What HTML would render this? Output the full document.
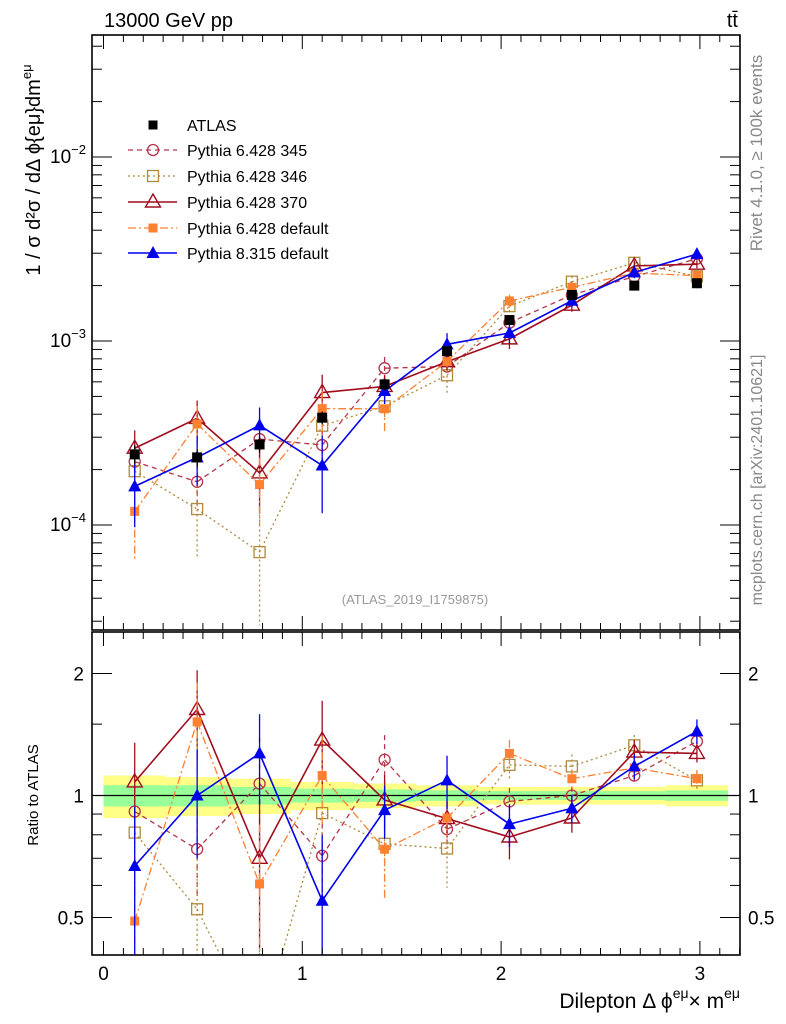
<!DOCTYPE html>
<html><head><meta charset="utf-8"><style>
html,body{margin:0;padding:0;background:#fff;overflow:hidden;width:786px;height:1024px;}
svg{display:block;}
svg text{font-family:"Liberation Sans",sans-serif;}
</style></head><body>
<svg id="chart" width="786" height="1024" viewBox="0 0 786 1024" xmlns="http://www.w3.org/2000/svg" overflow="hidden">
<rect width="786" height="1024" fill="#fff"/>
<g id="bands"></g>
<g id="series"></g>
<g id="axes"></g>
<text x="104" y="27" font-size="20">13000 GeV pp</text>
<text x="738" y="27" font-size="20" text-anchor="end">tt̄</text>
<text x="415" y="604" font-size="13" fill="#999" text-anchor="middle">(ATLAS_2019_I1759875)</text>
<text transform="translate(762,153) rotate(-90)" font-size="17" fill="#888" text-anchor="middle">Rivet 4.1.0, ≥ 100k events</text>
<text transform="translate(762,480) rotate(-90)" font-size="16" fill="#888" text-anchor="middle">mcplots.cern.ch [arXiv:2401.10621]</text>
<text transform="translate(40,170) rotate(-90)" font-size="20" text-anchor="middle">1 / σ  d²σ / dΔ ϕ{eμ}dm<tspan font-size="13" dy="-9">eμ</tspan></text>
<text transform="translate(38,795) rotate(-90)" font-size="15" text-anchor="middle">Ratio to ATLAS</text>
<text x="740" y="1008" font-size="21" text-anchor="end">Dilepton Δ ϕ<tspan font-size="14" dy="-10">eμ</tspan><tspan dy="10">× m</tspan><tspan font-size="14" dy="-10">eμ</tspan></text>
<g id="legend"></g>
</svg>
<script>
const xCenters=[0.157,0.471,0.785,1.100,1.414,1.728,2.042,2.356,2.670,2.985];
const atlasVals=[2.42e-4,2.33e-4,2.74e-4,3.83e-4,5.81e-4,8.8e-4,1.30e-3,1.78e-3,2.0e-3,2.06e-3];
const totErr=[0.12,0.11,0.10,0.08,0.07,0.06,0.05,0.05,0.05,0.06];
const statErr=[0.06,0.06,0.05,0.04,0.035,0.03,0.025,0.025,0.025,0.03];
const r345=[0.913,0.737,1.07,0.71,1.225,0.826,0.967,1.0,1.12,1.36];
const r346=[0.81,0.524,0.26,0.905,0.76,0.74,1.19,1.18,1.33,1.09];
const r370=[1.08,1.63,0.70,1.37,0.975,0.877,0.79,0.88,1.28,1.27];
const rDef6=[0.49,1.52,0.605,1.12,0.737,0.88,1.27,1.10,1.17,1.10];
const r8=[0.67,1.0,1.27,0.55,0.92,1.09,0.85,0.93,1.18,1.44];
const e345=[0.15,0.25,0.3,0.2,0.15,0.1,0.08,0.05,0.05,0.05];
const e346=[0.3,0.45,0.6,0.3,0.15,0.2,0.08,0.07,0.06,0.05];
const e370=[0.25,0.25,0.4,0.25,0.15,0.1,0.12,0.08,0.07,0.05];
const eDef6=[0.45,0.25,0.4,0.25,0.25,0.1,0.08,0.05,0.05,0.05];
const e8=[0.4,0.3,0.25,0.45,0.15,0.15,0.12,0.08,0.07,0.07];
const mainTicks=["10","10","10"];const mainExps=[-2,-3,-4];
const ratioTicks=[2,1,0.5];const xTicks=[0,1,2,3];

const NS="http://www.w3.org/2000/svg";
const L=92,R=740,MT=35,MB=630,RT=632,RB=955;
const sx=x=>103.5+198.8*x;
const sy=v=>341-184*(Math.log10(v)+3);
const sr=r=>795.5-122*Math.log2(r);
function mk(t,a,p){const e=document.createElementNS(NS,t);for(const k in a)e.setAttribute(k,a[k]);(p||document.getElementById('series')).appendChild(e);return e;}
const cl=(y,t,b)=>Math.max(t,Math.min(b,y));
function clipSeg(x1,y1,x2,y2,t,b){
 if((y1<t&&y2<t)||(y1>b&&y2>b))return null;
 const f=y=>x1+(x2-x1)*(y-y1)/(y2-y1);
 if(y1<t){x1=f(t);y1=t;} else if(y1>b){x1=f(b);y1=b;}
 if(y2<t){x2=x1+(x2-x1)*0; }
 return [x1,y1,x2,y2];
}
function segClip(x1,y1,x2,y2,t,b){
 const f=(y)=>x1+(x2-x1)*(y-y1)/(y2-y1);
 if((y1<t&&y2<t)||(y1>b&&y2>b))return null;
 let a=[x1,y1],c=[x2,y2];
 if(y1<t)a=[f(t),t];else if(y1>b)a=[f(b),b];
 if(y2<t)c=[f(t),t];else if(y2>b)c=[f(b),b];
 return [a[0],a[1],c[0],c[1]];
}
const bw=Math.PI/10;
const bandsG=document.getElementById('bands');
xCenters.forEach((c,i)=>{
 const x0=sx(c-bw/2),x1=Math.min(R,sx(c+bw/2));
 let e=mk('rect',{x:x0,y:sr(1+totErr[i]),width:x1-x0,height:sr(1-totErr[i])-sr(1+totErr[i]),fill:'#ffff88'},bandsG);
 
 
 e=mk('rect',{x:x0,y:sr(1+statErr[i]),width:x1-x0,height:sr(1-statErr[i])-sr(1+statErr[i]),fill:'#99ff99'},bandsG);
 
 
});
const gm=mk('g',{});
const gr=mk('g',{});
mk('line',{x1:L,x2:R,y1:sr(1),y2:sr(1),stroke:'#000','stroke-width':1.3},gr);
function marker(g,type,x,y,col,s){
 s=s||1;let e;
 if(type==='sq')e=mk('rect',{x:x-5*s,y:y-5*s,width:10*s,height:10*s,fill:col},g);
 else if(type==='osq')e=mk('rect',{x:x-5.5,y:y-5.5,width:11,height:11,fill:'none',stroke:col,'stroke-width':1.3},g);
 else if(type==='oc')e=mk('circle',{cx:x,cy:y,r:5.5,fill:'none',stroke:col,'stroke-width':1.3},g);
 else if(type==='otri')e=mk('path',{d:`M${x},${y-8}L${x+7.5},${y+5}L${x-7.5},${y+5}Z`,fill:'none',stroke:col,'stroke-width':1.4},g);
 else if(type==='ftri')e=mk('path',{d:`M${x},${y-7}L${x+6.5},${y+5}L${x-6.5},${y+5}Z`,fill:col},g);
 else if(type==='fsq')e=mk('rect',{x:x-4.5,y:y-4.5,width:9,height:9,fill:col},g);
 return e;
}
function drawLine(g,pts,t,b,s,name){
 const grp=mk('g',{},g);
 
 
 for(let i=0;i<pts.length-1;i++){
  const sg=segClip(pts[i][0],pts[i][1],pts[i+1][0],pts[i+1][1],t,b);
  if(sg)mk('line',{x1:sg[0],y1:sg[1],x2:sg[2],y2:sg[3],stroke:s.col,'stroke-width':s.w,'stroke-dasharray':s.dash},grp);
 }
}
const series=[
 {n:'pythia-6428-345',r:r345,e:e345,col:'#b5344a',dash:'5,4',m:'oc',w:1.3},
 {n:'pythia-6428-346',r:r346,e:e346,col:'#b08a3c',dash:'2,3',m:'osq',w:1.3},
 {n:'pythia-6428-370',r:r370,e:e370,col:'#a00e1e',dash:'',m:'otri',w:1.6},
 {n:'pythia-6428-default',r:rDef6,e:eDef6,col:'#ff8030',dash:'8,3,2,3',m:'fsq',w:1.3},
 {n:'pythia-8315-default',r:r8,e:e8,col:'#0000ee',dash:'',m:'ftri',w:1.6}
];
series.forEach(s=>{
 const vals=s.r.map((r,i)=>r*atlasVals[i]);
 drawLine(gm,xCenters.map((c,i)=>[sx(c),sy(vals[i])]),MT,MB,s,s.n+'-line');
 drawLine(gr,xCenters.map((c,i)=>[sx(c),sr(s.r[i])]),RT,RB,s,s.n+'-ratio-line');
 xCenters.forEach((c,i)=>{
  const x=sx(c),v=vals[i],r=s.r[i],e=s.e[i];
  mk('line',{x1:x,x2:x,y1:cl(sy(v*(1+e)),MT,MB),y2:cl(sy(v*Math.max(0.05,1-e)),MT,MB),stroke:s.col,'stroke-width':1.3,'stroke-dasharray':s.dash},gm);
  const ra=cl(sr(r*(1+e)),RT,RB),rb=cl(sr(r*Math.max(0.05,1-e)),RT,RB);
  if(rb>ra)mk('line',{x1:x,x2:x,y1:ra,y2:rb,stroke:s.col,'stroke-width':1.3,'stroke-dasharray':s.dash},gr);
  const ym=sy(v);
  if(ym>MT&&ym<MB){let m=marker(gm,s.m,x,ym,s.col);
  
  }
  const yr=sr(r);
  if(yr>RT+4&&yr<RB-4){let m=marker(gr,s.m,x,yr,s.col);
  
  }
 });
});
xCenters.forEach((c,i)=>{
 const x=sx(c),v=atlasVals[i];
 mk('line',{x1:x,x2:x,y1:sy(v*(1+totErr[i])),y2:sy(v*(1-totErr[i])),stroke:'#000','stroke-width':1.3},gm);
 const m=marker(gm,'sq',x,sy(v),'#000');
 
 
});
const ax=document.getElementById('axes');
[[MT,MB],[RT,RB]].forEach(([t,b])=>mk('rect',{x:L,y:t,width:R-L,height:b-t,fill:'none',stroke:'#000','stroke-width':1.6},ax));
for(let k=0;k<=32;k++){const xv=k*0.1;const x=sx(xv);if(x>R)break;const big=k%10===0;const len=big?14:7;
 [[MT,1],[MB,-1],[RT,1],[RB,-1]].forEach(([y,d])=>mk('line',{x1:x,x2:x,y1:y,y2:y+d*len,stroke:'#000','stroke-width':1},ax));}
xTicks.forEach(v=>{const t=mk('text',{x:sx(v),y:980,'font-size':19,'text-anchor':'middle'},ax);t.textContent=v;
 });
for(let d=-5;d<=-1;d++)for(let m=1;m<=9;m++){const v=m*Math.pow(10,d);const y=sy(v);if(y<MT||y>MB)continue;const len=m===1?20:10;
 mk('line',{x1:L,x2:L+len,y1:y,y2:y,stroke:'#000'},ax);mk('line',{x1:R,x2:R-len,y1:y,y2:y,stroke:'#000'},ax);}
mainExps.forEach((ex,i)=>{const t=mk('text',{x:86,y:sy(Math.pow(10,ex))+6,'font-size':19,'text-anchor':'end'},ax);
 
 t.innerHTML=mainTicks[i]+'<tspan font-size="13" dy="-9">−'+(-ex)+'</tspan>';});
[0.4,0.5,0.6,0.7,0.8,0.9,1,1.5,2].forEach(v=>{const y=sr(v);if(y<RT||y>RB)return;const big=(v===0.5||v===1||v===2);const len=big?20:10;
 mk('line',{x1:L,x2:L+len,y1:y,y2:y,stroke:'#000'},ax);mk('line',{x1:R,x2:R-len,y1:y,y2:y,stroke:'#000'},ax);});
ratioTicks.forEach(v=>{[[84,'end'],[748,'start']].forEach(([x,a])=>{const t=mk('text',{x:x,y:sr(v)+7,'font-size':19,'text-anchor':a},ax);t.textContent=v;
 });});
const lg=document.getElementById('legend');
const legNames=['ATLAS','Pythia 6.428 345','Pythia 6.428 346','Pythia 6.428 370','Pythia 6.428 default','Pythia 8.315 default'];
const legY=[125,150,176,202,228,253];
legNames.forEach((n,i)=>{const g=mk('g',{},lg);
 if(i===0)marker(g,'sq',153,legY[i],'#000',0.9);else{const s=series[i-1];
  mk('line',{x1:128,x2:177,y1:legY[i],y2:legY[i],stroke:s.col,'stroke-width':s.w,'stroke-dasharray':s.dash},g);marker(g,s.m,153,legY[i],s.col);}
 const t=mk('text',{x:187,y:legY[i]+6,'font-size':16},g);t.textContent=n;});
</script>
</body></html>
